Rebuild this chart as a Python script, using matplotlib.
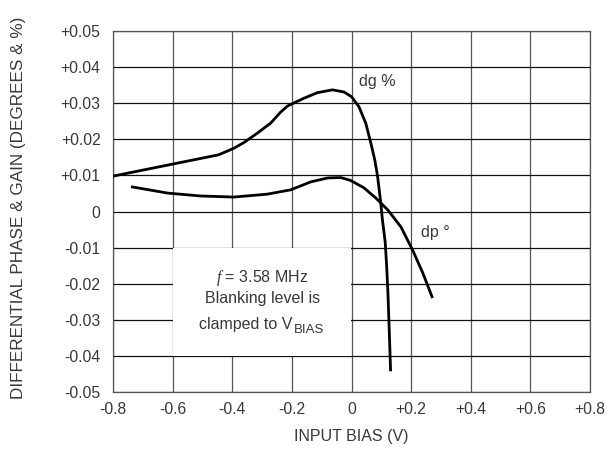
import matplotlib
matplotlib.use("Agg")
import matplotlib.pyplot as plt
from matplotlib.patches import Rectangle

plt.rcParams['font.family'] = ['Liberation Sans', 'DejaVu Sans']
plt.rcParams['mathtext.fontset'] = 'custom'
plt.rcParams['mathtext.rm'] = 'Liberation Sans'
plt.rcParams['mathtext.it'] = 'Liberation Serif:italic'

# --- values ---
dg_x = [-0.80, -0.446, -0.395, -0.361, -0.316, -0.271, -0.238, -0.215, -0.2,
        -0.159, -0.115, -0.064, -0.025, 0.0, 0.025, 0.048, 0.065, 0.078, 0.087,
        0.097, 0.104, 0.113, 0.118, 0.122, 0.128, 0.131]
dg_y = [0.0098, 0.0157, 0.0175, 0.0191, 0.0217, 0.0245, 0.0275, 0.0292, 0.0298,
        0.0314, 0.0329, 0.0337, 0.0331, 0.0318, 0.0290, 0.0244, 0.0189, 0.0143, 0.0100,
        0.0032, -0.0025, -0.0085, -0.0153, -0.0222, -0.0364, -0.0439]

dp_x = [-0.735, -0.617, -0.506, -0.395, -0.283, -0.204, -0.137, -0.08, -0.036,
        -0.003, 0.041, 0.082, 0.122, 0.166, 0.205, 0.239, 0.27]
dp_y = [0.0068, 0.0051, 0.0043, 0.0040, 0.0048, 0.0060, 0.0082, 0.0093, 0.0094,
        0.0086, 0.0066, 0.0037, 0.0004, -0.0043, -0.0107, -0.0170, -0.0236]

x_ticks = [-0.8, -0.6, -0.4, -0.2, 0, 0.2, 0.4, 0.6, 0.8]
x_labels = ["-0.8", "-0.6", "-0.4", "-0.2", "0", "+0.2", "+0.4", "+0.6", "+0.8"]
y_ticks = [0.05, 0.04, 0.03, 0.02, 0.01, 0, -0.01, -0.02, -0.03, -0.04, -0.05]
y_labels = ["+0.05", "+0.04", "+0.03", "+0.02", "+0.01", "0",
            "-0.01", "-0.02", "-0.03", "-0.04", "-0.05"]

TXT = "#383838"

fig = plt.figure(figsize=(6.09, 4.5), dpi=100)
ax = fig.add_axes([0.1856, 0.1289, 0.7832, 0.8022])

ax.set_xlim(-0.8, 0.8)
ax.set_ylim(-0.05, 0.05)
ax.set_xticks(x_ticks)
ax.set_xticklabels(x_labels)
ax.set_yticks(y_ticks)
ax.set_yticklabels(y_labels)
ax.tick_params(length=0, labelsize=11.3, labelcolor=TXT)
ax.tick_params(axis="y", pad=9)
ax.tick_params(axis="x", pad=7)

for x in x_ticks:
    ax.axvline(x, color="#555555", lw=0.9, zorder=1)
for y in y_ticks:
    ax.axhline(y, color="#111111", lw=0.9, zorder=1)
for s in ax.spines.values():
    s.set_color("#555555")
    s.set_linewidth(0.9)

# white note box covering the grid
ax.add_patch(Rectangle((-0.6, -0.04), 0.597, 0.03, facecolor="white",
                       edgecolor="none", zorder=2))
ax.text(-0.30, -0.0183, r"$\mathit{f}$ = 3.58 MHz", ha="center", va="center",
        fontsize=11.5, color=TXT, zorder=3)
ax.text(-0.30, -0.0241, "Blanking level is", ha="center", va="center",
        fontsize=11.5, color=TXT, zorder=3)
t = ax.text(-0.197, -0.0312, "clamped to V", ha="right", va="center",
            fontsize=11.5, color=TXT, zorder=3)
ax.annotate("BIAS", xy=(1, 0), xycoords=t, xytext=(0.5, -3.5),
            textcoords="offset points", ha="left", va="bottom",
            fontsize=9.5, color=TXT, zorder=3)

ax.plot(dg_x, dg_y, color="black", lw=2.0, zorder=4, solid_joinstyle="round")
ax.plot(dp_x, dp_y, color="black", lw=2.0, zorder=4, solid_joinstyle="round")

ax.text(0.025, 0.0359, "dg %", fontsize=11.5, color=TXT, va="center", zorder=3)
ax.text(0.232, -0.0057, "dp \u00b0", fontsize=11.5, color=TXT, va="center", zorder=3)

ax.set_xlabel("INPUT BIAS (V)", fontsize=11.5, color=TXT, labelpad=9)
fig.text(0.03, 0.538, "DIFFERENTIAL PHASE & GAIN (DEGREES & %)", rotation=90,
         ha="center", va="center", fontsize=12.3, color=TXT)

fig.savefig("out.png", dpi=100)
